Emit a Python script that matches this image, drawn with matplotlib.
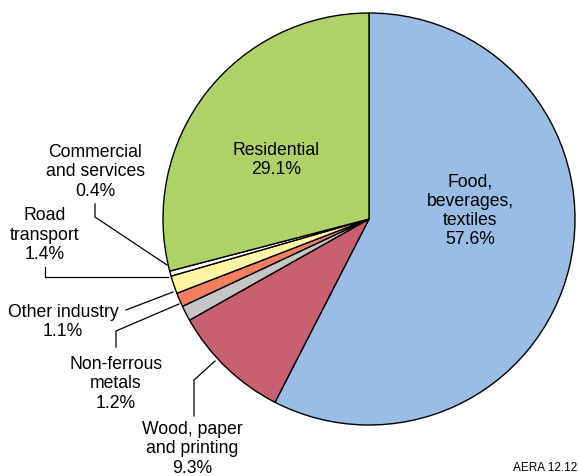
import matplotlib
matplotlib.use("Agg")
import matplotlib.pyplot as plt

# Data
categories = ["Food, beverages, textiles", "Wood, paper and printing", "Non-ferrous metals",
              "Other industry", "Road transport", "Commercial and services", "Residential"]
values = [57.6, 9.3, 1.2, 1.1, 1.4, 0.4, 29.1]
labels = ["Food,\nbeverages,\ntextiles\n57.6%", "Wood, paper\nand printing\n9.3%",
          "Non-ferrous\nmetals\n1.2%", "Other industry\n1.1%", "Road\ntransport\n1.4%",
          "Commercial\nand services\n0.4%", "Residential\n29.1%"]
colors = ["#99BDE4", "#C86070", "#C6C6C6", "#F2805E", "#FFF5A3", "#FFFFFF", "#AFD266"]

plt.rcParams['font.family'] = ['Liberation Sans', 'DejaVu Sans']

W, H = 578, 477
CX, CY, R = 369, 220, 206
fig = plt.figure(figsize=(W / 100, H / 100), dpi=100)
ax = fig.add_axes([(CX - R) / W, (H - CY - R) / H, 2 * R / W, 2 * R / H])

ax.pie(values, colors=colors, startangle=90, counterclock=False, radius=1,
       wedgeprops=dict(edgecolor="black", linewidth=1.0))
ax.set_xlim(-1, 1)
ax.set_ylim(-1, 1)
ax.axis("off")


def px(x, y):
    return (x - CX) / R, (CY - y) / R


fs = 12.7
ls = 1.17
# label positions (pixel centers)
label_pos = {
    0: (470, 211),
    1: (192, 449),
    2: (116, 384),
    3: (63, 322),
    4: (45, 235),
    5: (95, 172),
    6: (276, 160),
}
for i, (x, y) in label_pos.items():
    dx, dy = px(x, y)
    ax.text(dx, dy, labels[i], ha="center", va="center", fontsize=fs,
            linespacing=ls, clip_on=False)

leaders = [
    [(95, 205), (95, 218), (167, 266)],
    [(45, 268), (45, 278), (168, 278)],
    [(126, 311), (173, 293)],
    [(116, 348), (116, 332), (179, 305)],
    [(194, 417), (194, 381), (215, 362)],
]
for pts in leaders:
    xs, ys = zip(*[px(a, b) for a, b in pts])
    ax.plot(xs, ys, color="black", linewidth=0.9, clip_on=False)

fig.text(545 / W, 1 - 468 / H, "AERA 12.12", ha="center", va="center", fontsize=8.5)

fig.savefig("out.png", dpi=100)
